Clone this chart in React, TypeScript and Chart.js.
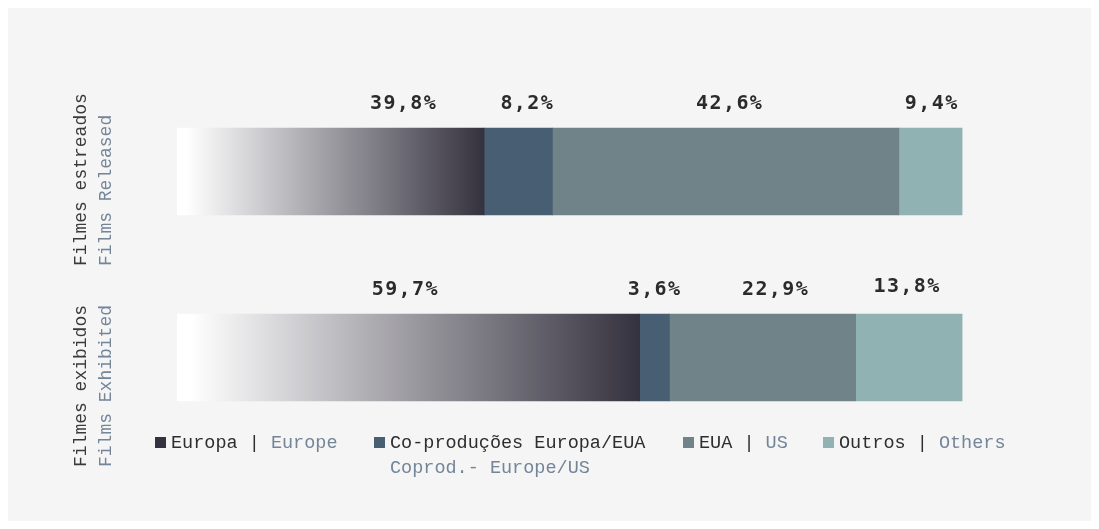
import React, { useEffect, useRef } from "react";
import { Chart, registerables } from "chart.js";

Chart.register(...registerables);

// ---- data ----
const categories = ["Filmes estreados", "Filmes exibidos"];
const categoriesEn = ["Films Released", "Films Exhibited"];
const seriesNames = ["Europa", "Co-produções Europa/EUA", "EUA", "Outros"];
const seriesNamesEn = ["Europe", "Coprod.- Europe/US", "US", "Others"];
// bar lengths (share of each bar)
const europaValues = [39.1, 58.9];
const coproducaoValues = [8.7, 3.8];
const euaValues = [44.1, 23.7];
const outrosValues = [8.1, 13.6];
// printed labels
const europaLabels = ["39,8%", "59,7%"];
const coproducaoLabels = ["8,2%", "3,6%"];
const euaLabels = ["42,6%", "22,9%"];
const outrosLabels = ["9,4%", "13,8%"];

// ---- styling ----
const W = 1083;
const H = 513;
const BG = "#f5f5f5";
const DARK_TEXT = "#2e2e30";
const LIGHT_TEXT = "#748598";
const EUROPA_DARK = "#35323f";
const COLORS = [EUROPA_DARK, "#485e72", "#6f8388", "#90b2b2"];
const LABEL_NUDGE_X = [
  [73, -3],
  [9, 0],
  [4, 13],
  [1, -2],
];
const LABEL_NUDGE_Y = [
  [0, 0],
  [0, 0],
  [0, 0],
  [0, -3],
];
const CAT_TEXT_START = [94.5, 109.5];
const LEGEND_X = [147, 366, 675, 815];
const MONO = '"Liberation Mono", "DejaVu Sans Mono", monospace';

const allLabels = [europaLabels, coproducaoLabels, euaLabels, outrosLabels];

const overlayPlugin = {
  id: "overlay",
  afterDatasetsDraw(chart: any) {
    const ctx = chart.ctx as CanvasRenderingContext2D;
    // value labels
    ctx.save();
    ctx.font = 'bold 20px "DejaVu Sans Mono", monospace';
    (ctx as any).letterSpacing = "1.4px";
    ctx.fillStyle = "#2b2b2d";
    ctx.textAlign = "center";
    ctx.textBaseline = "alphabetic";
    chart.data.datasets.forEach((ds: any, di: number) => {
      const meta = chart.getDatasetMeta(di);
      meta.data.forEach((el: any, i: number) => {
        const cx = (el.base + el.x) / 2 + LABEL_NUDGE_X[di][i];
        const top = el.y - el.height / 2;
        ctx.fillText(allLabels[di][i], cx, top - 19 + LABEL_NUDGE_Y[di][i]);
      });
    });
    ctx.restore();

    // category labels (rotated)
    const yScale = chart.scales.y;
    ctx.save();
    ctx.font = "18px " + MONO;
    ctx.textAlign = "left";
    ctx.textBaseline = "alphabetic";
    categories.forEach((c, i) => {
      const cy = yScale.getPixelForValue(i);
      ctx.save();
      ctx.translate(0, cy + CAT_TEXT_START[i]);
      ctx.rotate(-Math.PI / 2);
      ctx.fillStyle = "#3a3a3c";
      ctx.fillText(c, 0, 78);
      ctx.fillStyle = LIGHT_TEXT;
      ctx.fillText(categoriesEn[i], 0, 103);
      ctx.restore();
    });
    ctx.restore();

    // legend
    ctx.save();
    ctx.font = "18.5px " + MONO;
    ctx.textAlign = "left";
    ctx.textBaseline = "alphabetic";
    const baseline = 440;
    seriesNames.forEach((name, i) => {
      const x = LEGEND_X[i];
      ctx.fillStyle = COLORS[i];
      ctx.fillRect(x, baseline - 11, 11, 11);
      const tx = x + 16;
      if (i === 1) {
        ctx.fillStyle = DARK_TEXT;
        ctx.fillText(name, tx, baseline);
        ctx.fillStyle = LIGHT_TEXT;
        ctx.fillText(seriesNamesEn[i], tx, baseline + 25);
      } else {
        const first = name + " | ";
        ctx.fillStyle = DARK_TEXT;
        ctx.fillText(first, tx, baseline);
        const w1 = ctx.measureText(first).width;
        ctx.fillStyle = LIGHT_TEXT;
        ctx.fillText(seriesNamesEn[i], tx + w1, baseline);
      }
    });
    ctx.restore();
  },
};

export default function App() {
  const canvasRef = useRef<HTMLCanvasElement | null>(null);

  useEffect(() => {
    if (!canvasRef.current) return;
    const europaFill = (c: any) => {
      const chart = c.chart;
      const xs = chart.scales && chart.scales.x;
      if (!xs || c.raw == null) return EUROPA_DARK;
      const x0 = xs.getPixelForValue(0);
      const x1 = xs.getPixelForValue(c.raw);
      if (!isFinite(x0) || !isFinite(x1) || x1 <= x0) return EUROPA_DARK;
      const g = chart.ctx.createLinearGradient(x0, 0, x1, 0);
      g.addColorStop(0, "#ffffff");
      g.addColorStop(0.03, "#ffffff");
      g.addColorStop(1, EUROPA_DARK);
      return g;
    };
    const chart = new Chart(canvasRef.current, {
      type: "bar",
      data: {
        labels: categories,
        datasets: [
          { label: seriesNames[0], data: europaValues, backgroundColor: europaFill as any },
          { label: seriesNames[1], data: coproducaoValues, backgroundColor: COLORS[1] },
          { label: seriesNames[2], data: euaValues, backgroundColor: COLORS[2] },
          { label: seriesNames[3], data: outrosValues, backgroundColor: COLORS[3] },
        ],
      },
      options: {
        indexAxis: "y",
        responsive: false,
        animation: false,
        barThickness: 87,
        borderWidth: 0,
        layout: { padding: { left: 169, right: 128.5, top: 70.5, bottom: 70.5 } },
        scales: {
          x: { stacked: true, min: 0, max: 100, display: false },
          y: { stacked: true, display: false },
        },
        plugins: {
          legend: { display: false },
          tooltip: { enabled: false },
          title: { display: false },
        },
      } as any,
      plugins: [overlayPlugin],
    });
    return () => chart.destroy();
  }, []);

  return (
    <div style={{ width: W, height: H, background: BG }}>
      <canvas ref={canvasRef} width={W} height={H} style={{ display: "block" }} />
    </div>
  );
}
